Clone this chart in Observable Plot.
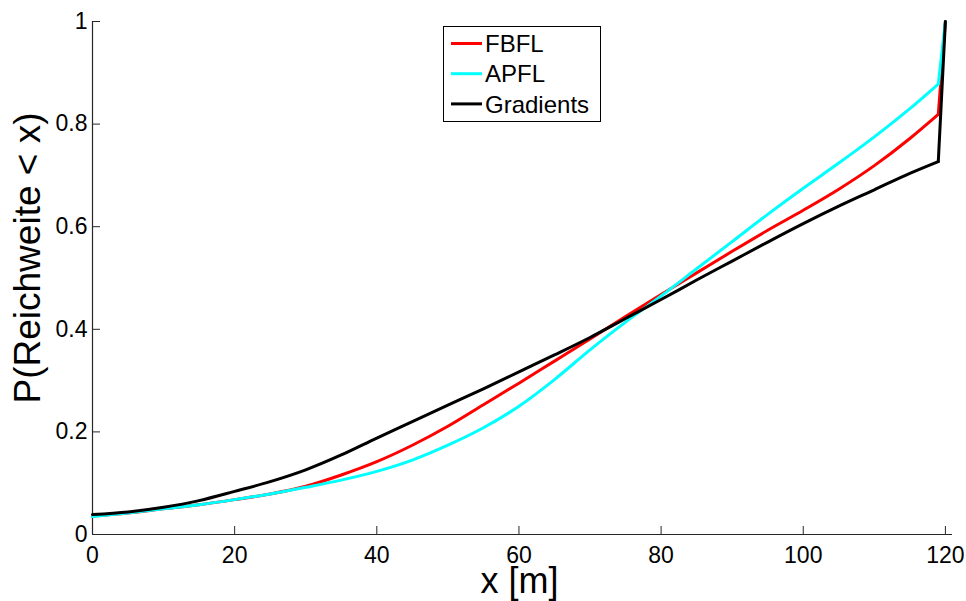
<!DOCTYPE html>
<html>
<head>
<meta charset="utf-8">
<script src="https://cdn.jsdelivr.net/npm/d3@7"></script>
<script src="https://cdn.jsdelivr.net/npm/@observablehq/plot@0.6"></script>
<style>
  html, body { margin: 0; padding: 0; background: #fff; }
  #chart { position: relative; width: 966px; height: 601px; }
</style>
</head>
<body>
<div id="chart"></div>
<script>
// ---- data ----
const xs   = [0, 5, 10, 15, 20, 25, 30, 35, 40, 45, 50, 55, 60, 65, 70, 75, 80, 85, 90, 95, 100, 105, 110, 115, 119, 120];
const fbfl = [0.036, 0.042, 0.050, 0.058, 0.068, 0.079, 0.094, 0.116, 0.142, 0.174, 0.211, 0.253, 0.295, 0.338, 0.381, 0.425, 0.468, 0.510, 0.552, 0.593, 0.632, 0.673, 0.719, 0.772, 0.819, 1.0];
const apfl = [0.035, 0.042, 0.050, 0.058, 0.068, 0.079, 0.092, 0.106, 0.123, 0.145, 0.174, 0.208, 0.250, 0.302, 0.360, 0.414, 0.465, 0.518, 0.571, 0.624, 0.675, 0.724, 0.775, 0.830, 0.878, 1.0];
const grad = [0.039, 0.044, 0.053, 0.066, 0.084, 0.103, 0.126, 0.155, 0.188, 0.220, 0.252, 0.284, 0.317, 0.350, 0.384, 0.421, 0.458, 0.496, 0.533, 0.570, 0.606, 0.640, 0.672, 0.704, 0.727, 1.0];
const seriesNames  = ["FBFL", "APFL", "Gradients"];
const seriesColors = ["#ff0000", "#00ffff", "#000000"];
const xTicks = [0, 20, 40, 60, 80, 100, 120];
const yTicks = [0, 0.2, 0.4, 0.6, 0.8, 1];
const xLabel = "x [m]";
const yLabel = "P(Reichweite < x)";

const seriesValues = [fbfl, apfl, grad];
const rows = seriesNames.flatMap((name, i) =>
  xs.map((x, j) => ({series: name, order: i, x, y: seriesValues[i][j]})));
const kneeX = xs[xs.length - 2];

const font = "'Liberation Sans', Arial, Helvetica, sans-serif";
const axisColor = "#262626";

const lineMarks = seriesNames.flatMap(name => [
  Plot.line(rows.filter(d => d.series === name && d.x <= kneeX),
    {x: "x", y: "y", stroke: "series", strokeWidth: 3, curve: "monotone-x"}),
  Plot.line(rows.filter(d => d.series === name && d.x >= kneeX),
    {x: "x", y: "y", stroke: "series", strokeWidth: 3, strokeLinejoin: "miter"})
]);

const chart = Plot.plot({
  width: 966,
  height: 601,
  marginLeft: 92,
  marginRight: 14,
  marginTop: 21,
  marginBottom: 67,
  style: {fontFamily: font, background: "#fff", color: "#000", overflow: "visible"},
  x: {domain: [0, 121]},
  y: {domain: [0, 1]},
  color: {domain: seriesNames, range: seriesColors},
  marks: [
    // inward ticks
    Plot.axisX(xTicks, {tickSize: 8, dy: -8, tickFormat: () => "", label: null, stroke: axisColor}),
    Plot.axisY(yTicks, {tickSize: 8, dx: 8, tickFormat: () => "", label: null, stroke: axisColor}),
    // tick labels
    Plot.axisX(xTicks, {tickSize: 0, tickPadding: 12, fontSize: 23, label: null, tickFormat: d => String(d), fill: "#000"}),
    Plot.axisY(yTicks, {tickSize: 0, tickPadding: 5, fontSize: 23, label: null, tickFormat: d => String(d), fill: "#000"}),
    // axis lines
    Plot.ruleY([0], {stroke: axisColor, strokeWidth: 1.2}),
    Plot.ruleX([0], {stroke: axisColor, strokeWidth: 1.2}),
    // data
    ...lineMarks,
    // axis titles
    Plot.text([xLabel], {frameAnchor: "bottom", text: d => d, fontSize: 36, textAnchor: "middle", lineAnchor: "middle", dx: -3, dy: 47, fill: "#000"}),
    Plot.text([yLabel], {frameAnchor: "left", text: d => d, fontSize: 37, rotate: -90, textAnchor: "middle", lineAnchor: "middle", dx: -64, dy: -20, fill: "#000"})
  ]
});

document.getElementById("chart").appendChild(chart);

// legend (inside the axes, upper middle)
const svg = d3.select(chart);
const lg = svg.append("g").attr("transform", "translate(443,26)");
lg.append("rect").attr("x", 0.5).attr("y", 0.5).attr("width", 157).attr("height", 95)
  .attr("fill", "#fff").attr("stroke", "#000").attr("stroke-width", 1);
seriesNames.forEach((name, i) => {
  const cy = 17.5 + i * 30.2;
  lg.append("line").attr("x1", 8).attr("x2", 39).attr("y1", cy).attr("y2", cy)
    .attr("stroke", seriesColors[i]).attr("stroke-width", 3);
  lg.append("text").attr("x", 42).attr("y", cy).attr("dy", "0.36em")
    .attr("text-anchor", "start")
    .attr("font-family", font).attr("font-size", 24).attr("fill", "#000").text(name);
});
</script>
</body>
</html>
